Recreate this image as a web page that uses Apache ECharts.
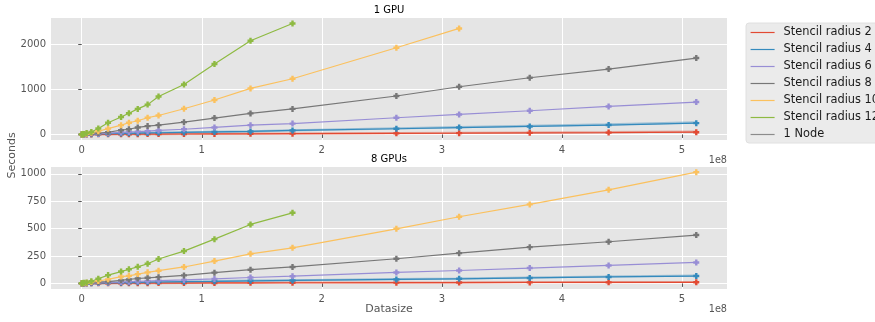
<!DOCTYPE html>
<html>
<head>
<meta charset="utf-8">
<script src="https://cdn.jsdelivr.net/npm/echarts@6/dist/echarts.min.js"></script>
<style>html,body{margin:0;padding:0;background:#fff}#c{width:875px;height:322px}</style>
</head>
<body>
<div id="c"></div>
<script>
// Datasize values (n^3 grids)
const datasize = [64000, 512000, 1728000, 4096000, 8000000, 13824000, 21952000, 32768000, 39304000, 46656000, 54872000, 64000000, 85184000, 110592000, 140608000, 175616000, 262144000, 314432000, 373248000, 438976000, 512000000];

const seriesNames = ['Stencil radius 2', 'Stencil radius 4', 'Stencil radius 6', 'Stencil radius 8', 'Stencil radius 10', 'Stencil radius 12'];
const legendNames = ['Stencil radius 2', 'Stencil radius 4', 'Stencil radius 6', 'Stencil radius 8', 'Stencil radius 10', 'Stencil radius 12', '1 Node'];
const colors = ['#E24A33', '#348ABD', '#988ED5', '#777777', '#FBC15E', '#8EBA42'];
const nodeColor = '#8c8c8c';

// 1 GPU (seconds)
const gpu1_r2  = [0, 0.1, 0.3, 0.7, 1.3, 2, 3, 4, 5, 6, 7, 8, 10, 12, 14, 17, 24, 29, 35, 41, 50];
const gpu1_r4  = [0.05, 0.4, 1.3, 3, 6, 10, 15, 22, 25, 29, 33, 37, 45, 55, 66, 88, 126, 152, 177, 208, 250];
const gpu1_r6  = [0.3, 1, 3, 6, 11, 17, 28, 45, 55, 63, 72, 88, 115, 155, 205, 240, 369, 442, 524, 619, 717];
const gpu1_r8  = [0.5, 1, 4, 9, 17, 30, 48, 95, 115, 155, 185, 205, 272, 363, 465, 565, 850, 1055, 1254, 1447, 1690];
const gpu1_r10 = [1, 2, 6, 15, 35, 70, 128, 205, 259, 303, 369, 420, 569, 761, 1018, 1232, 1918, 2345];
const gpu1_r12 = [1, 3, 10, 30, 53, 133, 259, 385, 468, 565, 660, 841, 1106, 1557, 2073, 2455];
// faint companion lines visible under the small-radius series
const gpu1_r2_faint = [0, 0.1, 0.3, 0.7, 1.3, 2, 3, 4, 5, 6, 7, 8, 10, 13, 16, 19, 28, 34, 41, 50, 62];
const gpu1_r4_faint = [0.05, 0.4, 1.3, 3, 6, 10, 15, 22, 25, 29, 33, 38, 47, 58, 70, 92, 132, 160, 190, 222, 266];

// 8 GPUs (seconds)
const gpu8_r2  = [0, 0.1, 0.2, 0.3, 0.5, 0.8, 1.2, 1.6, 1.9, 2.2, 2.5, 2.8, 3.5, 4.2, 5, 6, 7, 8, 9, 9.5, 10];
const gpu8_r4  = [0.1, 0.3, 0.6, 1.2, 2, 3, 5, 7, 8, 10, 11, 13, 16, 19, 24, 27, 36, 42, 50, 59, 67];
const gpu8_r6  = [0.2, 0.5, 1, 2, 4, 6, 9, 13, 16, 19, 22, 25, 32, 41, 54, 66, 100, 118, 140, 164, 191];
const gpu8_r8  = [0.3, 0.6, 2, 4, 7, 11, 16, 28, 36, 45, 51, 57, 73, 98, 125, 150, 225, 276, 331, 380, 441];
const gpu8_r10 = [0.5, 1, 3, 6, 12, 22, 37, 62, 69, 85, 101, 116, 150, 204, 270, 325, 498, 608, 721, 854, 1015];
const gpu8_r12 = [1, 2, 5, 9, 20, 42, 76, 108, 129, 151, 179, 223, 295, 404, 538, 644];
const gpu8_r2_faint = [0, 0.1, 0.2, 0.3, 0.5, 0.8, 1.2, 1.6, 1.9, 2.2, 2.5, 2.8, 3.6, 4.4, 5.4, 6.5, 8, 9, 10.5, 11.5, 13];
const gpu8_r4_faint = [0.1, 0.3, 0.6, 1.2, 2, 3, 5, 7, 8, 10, 11, 13, 16, 20, 25, 29, 39, 45, 54, 63, 72];

const xTicks = [0, 100000000, 200000000, 300000000, 400000000, 500000000];
const yTicksTop = [0, 1000, 2000];
const yTicksBottom = [0, 250, 500, 750, 1000];

const plusPath = 'path://M3,0H7V3H10V7H7V10H3V7H0V3H3Z';
const FONT = 'DejaVu Sans';

function pairs(arr) { return arr.map((v, i) => [datasize[i], v]); }

const gpu1 = [gpu1_r2, gpu1_r4, gpu1_r6, gpu1_r8, gpu1_r10, gpu1_r12];
const gpu8 = [gpu8_r2, gpu8_r4, gpu8_r6, gpu8_r8, gpu8_r10, gpu8_r12];

const series = [];
function faint(name, arr, color, gi) {
  series.push({
    name: name, type: 'line', xAxisIndex: gi, yAxisIndex: gi,
    data: pairs(arr), showSymbol: false, symbol: 'none', silent: true,
    lineStyle: { color: color, width: 2.2, opacity: 0.4 }, itemStyle: { color: color },
    animation: false, z: 1
  });
}
faint('f1r2', gpu1_r2_faint, colors[0], 0);
faint('f1r4', gpu1_r4_faint, colors[1], 0);
faint('f8r2', gpu8_r2_faint, colors[0], 1);
faint('f8r4', gpu8_r4_faint, colors[1], 1);

[gpu1, gpu8].forEach((group, gi) => {
  group.forEach((arr, si) => {
    series.push({
      name: seriesNames[si], type: 'line', xAxisIndex: gi, yAxisIndex: gi,
      data: pairs(arr), symbol: plusPath, symbolSize: 6, showSymbol: true,
      lineStyle: { color: colors[si], width: 1.2 }, itemStyle: { color: colors[si] },
      animation: false, z: 2
    });
  });
});
series.push({ name: '1 Node', type: 'line', xAxisIndex: 0, yAxisIndex: 0, data: [],
  lineStyle: { color: nodeColor, width: 1.2 }, itemStyle: { color: nodeColor }, animation: false });

function xAxis(gi) {
  return {
    type: 'value', gridIndex: gi, min: -25600000, max: 537600000,
    axisLine: { show: false },
    axisTick: { show: true, length: 3.5, lineStyle: { color: '#555555' }, customValues: xTicks },
    axisLabel: { customValues: xTicks, color: '#555555', fontSize: 10, fontFamily: FONT, margin: 5,
      formatter: v => String(Math.round(v / 1e8)) },
    splitLine: { show: true, lineStyle: { color: '#ffffff', width: 1 } }
  };
}
function yAxis(gi, min, max, ticks) {
  return {
    type: 'value', gridIndex: gi, min: min, max: max,
    axisLine: { show: false },
    axisTick: { show: true, length: 3.5, lineStyle: { color: '#555555' }, customValues: ticks },
    axisLabel: { customValues: ticks, color: '#555555', fontSize: 10, fontFamily: FONT, margin: 5,
      formatter: v => String(Math.round(v)) },
    splitLine: { show: true, lineStyle: { color: '#ffffff', width: 1 } }
  };
}

const chart = echarts.init(document.getElementById('c'), null, { renderer: 'canvas' });
chart.setOption({
  backgroundColor: '#ffffff',
  animation: false,
  grid: [
    { left: 51, top: 18, width: 676, height: 122, show: true, backgroundColor: '#E5E5E5', borderWidth: 0 },
    { left: 51, top: 167, width: 676, height: 122, show: true, backgroundColor: '#E5E5E5', borderWidth: 0 }
  ],
  xAxis: [xAxis(0), xAxis(1)],
  yAxis: [yAxis(0, -123, 2576, yTicksTop), yAxis(1, -51, 1062, yTicksBottom)],
  legend: {
    data: legendNames, orient: 'vertical', left: 750, top: 26.5, padding: 0,
    itemWidth: 24, itemHeight: 10, itemGap: 5.0,
    itemStyle: { opacity: 0 },
    lineStyle: { width: 1.2 },
    textStyle: { fontSize: 11.4, fontFamily: FONT, color: '#1a1a1a', lineHeight: 12, padding: [0, 0, 0, 4] },
    selectedMode: false
  },
  graphic: [
    { type: 'rect', shape: { x: 746, y: 23, width: 160, height: 120, r: 3 }, style: { fill: '#EBEBEB', stroke: '#E0E0E0', lineWidth: 1 }, z: -1 },
    { type: 'text', x: 389, y: 10.5, style: { text: '1 GPU', fontSize: 10, fontFamily: FONT, fill: '#000000', textAlign: 'center', textVerticalAlign: 'middle' } },
    { type: 'text', x: 389, y: 159, style: { text: '8 GPUs', fontSize: 10, fontFamily: FONT, fill: '#000000', textAlign: 'center', textVerticalAlign: 'middle' } },
    { type: 'text', x: 727, y: 160.5, style: { text: '1e8', fontSize: 9.7, fontFamily: FONT, fill: '#555555', textAlign: 'right', textVerticalAlign: 'middle' } },
    { type: 'text', x: 727, y: 309, style: { text: '1e8', fontSize: 9.7, fontFamily: FONT, fill: '#555555', textAlign: 'right', textVerticalAlign: 'middle' } },
    { type: 'text', x: 389, y: 309.5, style: { text: 'Datasize', fontSize: 11, fontFamily: FONT, fill: '#555555', textAlign: 'center', textVerticalAlign: 'middle' } },
    { type: 'text', x: 12.5, y: 155.5, rotation: Math.PI / 2, style: { text: 'Seconds', fontSize: 11, fontFamily: FONT, fill: '#555555', textAlign: 'center', textVerticalAlign: 'middle' } }
  ],
  series: series
});
</script>
</body>
</html>
